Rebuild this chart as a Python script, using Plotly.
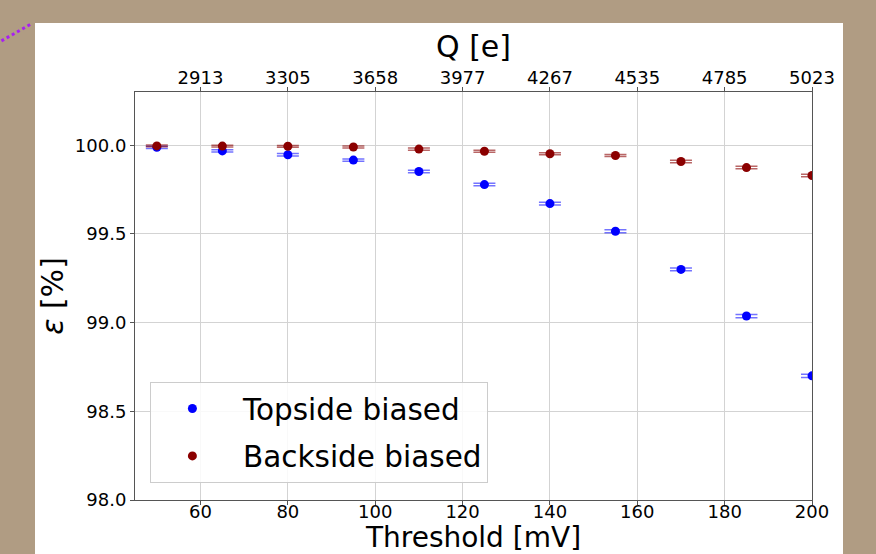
import plotly.graph_objects as go

threshold_mv = [50, 65, 80, 95, 110, 125, 140, 155, 170, 185, 200]
topside_eff = [99.988, 99.968, 99.946, 99.916, 99.852, 99.778, 99.671, 99.515, 99.300, 99.037, 98.700]
topside_err = [0.006, 0.006, 0.007, 0.007, 0.007, 0.007, 0.008, 0.008, 0.008, 0.009, 0.009]
backside_eff = [99.996, 99.995, 99.994, 99.990, 99.978, 99.966, 99.952, 99.942, 99.908, 99.874, 99.829]
backside_err = [0.005, 0.005, 0.005, 0.006, 0.006, 0.006, 0.006, 0.006, 0.007, 0.007, 0.007]
x_ticks = [60, 80, 100, 120, 140, 160, 180, 200]
q_labels = ["2913", "3305", "3658", "3977", "4267", "4535", "4785", "5023"]
y_ticks = [98.0, 98.5, 99.0, 99.5, 100.0]

FONT = "DejaVu Sans"
BG = "#b09c83"

fig = go.Figure()
fig.add_trace(go.Scatter(
    x=threshold_mv, y=topside_eff, mode="markers", name="Topside biased",
    legendgroup="a",
    marker=dict(color="#0000ff", size=9),
    error_y=dict(type="data", array=topside_err, color="rgba(0,0,255,0.55)", thickness=1.5, width=11),
))
fig.add_trace(go.Scatter(
    x=threshold_mv, y=backside_eff, mode="markers", name="Backside biased",
    legendgroup="b",
    marker=dict(color="#8b0000", size=9),
    error_y=dict(type="data", array=backside_err, color="rgba(139,0,0,0.6)", thickness=1.5, width=11),
))
# invisible trace to instantiate the top (charge) axis
fig.add_trace(go.Scatter(
    x=threshold_mv, y=backside_eff, xaxis="x2", mode="markers",
    marker=dict(opacity=0), showlegend=False, hoverinfo="skip",
))

axis_common = dict(
    showline=True, linecolor="#555555", linewidth=1,
    ticks="outside", ticklen=4, tickcolor="#555555",
    gridcolor="#d3d3d3", gridwidth=1,
    zeroline=False, automargin=False,
    tickfont=dict(family=FONT, size=18, color="black"),
)

fig.update_layout(
    width=876, height=554,
    margin=dict(l=135, r=64, t=92, b=54),
    paper_bgcolor=BG, plot_bgcolor="white",
    font=dict(family=FONT, color="black"),
    xaxis=dict(
        range=[45, 200], tickvals=x_ticks, showgrid=True, ticklabelstandoff=-9,
        title=dict(text="Threshold [mV]", font=dict(family=FONT, size=28), standoff=3),
        **axis_common,
    ),
    xaxis2=dict(
        overlaying="x", side="top", range=[45, 200], tickvals=x_ticks, ticktext=q_labels,
        showgrid=False, ticklabelstandoff=-4,
        title=dict(text="Q [e]", font=dict(family=FONT, size=30), standoff=0),
        **axis_common,
    ),
    yaxis=dict(
        range=[98.0, 100.3], tickvals=y_ticks, tickformat=".1f", mirror=True, showgrid=True,
        title=dict(text="<i>ε</i> [%]", font=dict(family=FONT, size=30), standoff=2),
        **axis_common,
    ),
    legend=dict(
        x=0.022, y=0.042, xanchor="left", yanchor="bottom",
        bgcolor="rgba(255,255,255,0.85)", bordercolor="#cccccc", borderwidth=1,
        font=dict(family=FONT, size=29.5, color="black"),
        tracegroupgap=6, itemwidth=91, indentation=-9,
    ),
    showlegend=True,
)

# white panel behind the figure and decorative dotted line
fig.add_shape(type="rect", xref="paper", yref="paper",
              x0=-0.1477, x1=1.0458, y0=-0.3, y1=1.169,
              fillcolor="white", line=dict(width=0), layer="below")
fig.add_shape(type="line", xref="paper", yref="paper",
              x0=-0.205, y0=1.118, x1=-0.1536, y1=1.1667,
              line=dict(color="#a81ff2", width=3, dash="dot"))

fig.write_html("out.html", config={"displayModeBar": False},
               post_script="document.body.style.margin='0';document.body.style.padding='0';")
